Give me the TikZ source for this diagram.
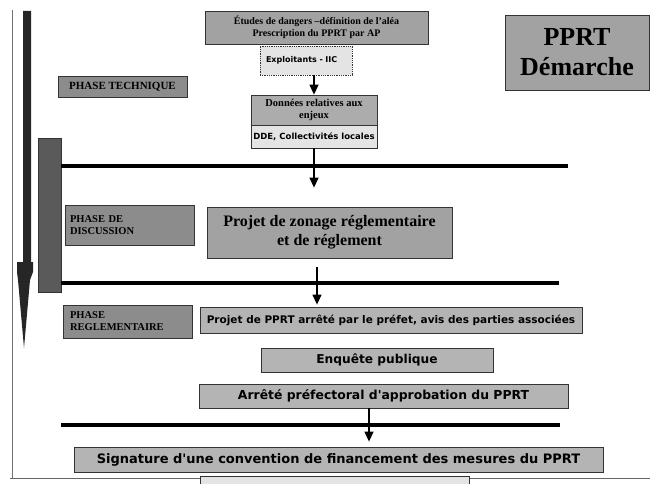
\documentclass[tikz,border=0pt]{standalone}
\usepackage{fontspec}
\setmainfont{Liberation Serif}
\newfontfamily\sansf{DejaVu Sans}
\usetikzlibrary{arrows.meta,calc}
\definecolor{gtop}{HTML}{A2A2A2}
\definecolor{glight}{HTML}{E4E4E4}
\definecolor{gmid}{HTML}{ACACAC}
\definecolor{gphase}{HTML}{8C8C8C}
\definecolor{gsans}{HTML}{B4B4B4}
\definecolor{gtall}{HTML}{5A5A5A}
\definecolor{garrow}{HTML}{262626}
\begin{document}
\begin{tikzpicture}[x=1pt,y=-1pt,
  box/.style={draw=black!80,line width=0.8pt,inner sep=0pt,anchor=center,align=center},
  arr/.style={line width=1.3pt,-{Triangle[width=9pt,length=10pt]}},
  hl/.style={line width=3.5pt,black},
  ]
\useasboundingbox (0,0) rectangle (650,484);
% page edges
\draw[black!55,line width=0.8pt] (12,10) -- (12,478);
\draw[black!60,line width=0.8pt] (10,478) -- (650,478);
% left progress arrow
\fill[garrow] (23,11) -- (31,11) -- (31,262) -- (33,262) -- (33,272) -- (30,280)
  -- (24,348) -- (18,280) -- (17,272) -- (17,262) -- (23,262) -- cycle;
% tall grey bar
\node[box,fill=gtall,minimum width=23pt,minimum height=154pt] (tall) at (49.5,215) {};
% title
\node[box,fill=gtop,minimum width=144pt,minimum height=75pt,font=\fontsize{26}{30}\selectfont\bfseries] (pprt) at (577,52.5) {PPRT\\Démarche};
% technical phase
\node[box,fill=gtop,minimum width=223pt,minimum height=33pt,font=\fontsize{10}{12}\selectfont\bfseries] (etu) at (316.5,27.5) {Études de dangers –définition de l'aléa\\Prescription du PPRT par AP};
\node[box,fill=glight,densely dotted,minimum width=92pt,minimum height=29pt,text width=80pt,align=left,font=\fontsize{8}{10}\selectfont\sansf\bfseries] (expl) at (306,60.5) {Exploitants - IIC};
\node[box,fill=gmid,minimum width=126pt,minimum height=30pt,font=\fontsize{10.5}{12.5}\selectfont\bfseries] (don1) at (314,110) {Données relatives aux\\enjeux};
\node[box,fill=glight,minimum width=126pt,minimum height=23pt,font=\fontsize{8.5}{10}\selectfont\sansf\bfseries] (don2) at (314,136.5) {DDE, Collectivités locales};
\node[box,fill=gphase,minimum width=129pt,minimum height=21pt,font=\fontsize{11}{13}\selectfont\bfseries] (ptech) at (122.5,86.5) {PHASE TECHNIQUE};
% discussion phase
\node[box,fill=gphase,minimum width=129pt,minimum height=40pt,text width=119pt,align=left,font=\fontsize{10.5}{12}\selectfont\bfseries] (pdisc) at (129.5,225) {PHASE DE\\DISCUSSION};
\node[box,fill=gtop,minimum width=245pt,minimum height=51pt,font=\fontsize{16}{19}\selectfont\bfseries] (zon) at (329.5,232.5) {Projet de zonage réglementaire\\et de réglement};
% regulatory phase
\node[box,fill=gphase,minimum width=129pt,minimum height=33pt,text width=115pt,align=left,font=\fontsize{10.5}{12}\selectfont\bfseries] (preg) at (127.5,321.5) {PHASE\\REGLEMENTAIRE};
\node[box,fill=gsans,minimum width=382pt,minimum height=26pt,font=\fontsize{10.5}{13}\selectfont\sansf\bfseries] (ppr) at (391,320) {Projet de PPRT arrêté par le préfet, avis des parties associées};
\node[box,fill=gsans,minimum width=232pt,minimum height=24pt,font=\fontsize{12.2}{14}\selectfont\sansf\bfseries] (enq) at (377,360) {Enquête publique};
\node[box,fill=gsans,minimum width=369pt,minimum height=24pt,font=\fontsize{12.4}{14}\selectfont\sansf\bfseries] (apr) at (383.5,396) {Arrêté préfectoral d'approbation du PPRT};
\node[box,fill=gsans,minimum width=529pt,minimum height=25pt,font=\fontsize{13}{15}\selectfont\sansf\bfseries] (sig) at (338.5,459.5) {Signature d'une convention de financement des mesures du PPRT};
\node[box,fill=glight,minimum width=269pt,minimum height=14pt] (cut) at (334.5,483) {};
% phase separators
\coordinate (h1) at (568,166);
\coordinate (h2) at (559,283);
\coordinate (h3) at (560,425);
\draw[hl] (tall.east |- h1) -- (h1);
\draw[hl] (tall.east |- h2) -- (h2);
\draw[hl] (tall.east |- h3) -- (h3);
% connectors
\draw[arr] (don1.north |- expl.south) -- (don1.north);
\draw[arr,shorten >=19pt] (don2.south) -- (don2.south |- zon.north);
\coordinate (c3) at (317,0);
\draw[arr,shorten <=9pt,shorten >=2pt] (zon.south -| c3) -- (ppr.north -| c3);
\coordinate (c4) at (369,0);
\draw[arr,shorten >=5pt] (apr.south -| c4) -- (sig.north -| c4);
\end{tikzpicture}
\end{document}
